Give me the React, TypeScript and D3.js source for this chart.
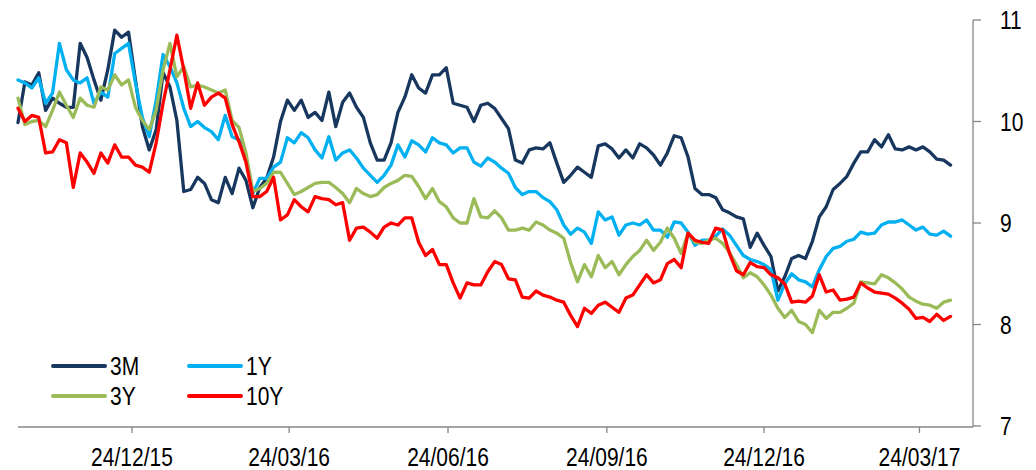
import React from 'react';
import * as d3 from 'd3';

// sampled every 4 days starting 19/10/2015
const startDate = '2015-10-19';
const stepDays = 4;

const rate3M = [
  9.99, 10.39, 10.36, 10.48, 10.11, 10.23, 10.18, 10.14, 10.14, 10.77,
  10.63, 10.41, 10.21, 10.51, 10.90, 10.83, 10.88, 10.41, 9.95, 9.72,
  9.92, 10.48, 10.34, 10.01, 9.31, 9.33, 9.45, 9.39, 9.23, 9.20,
  9.45, 9.29, 9.54, 9.42, 9.15, 9.35, 9.44, 9.65, 10.00, 10.21,
  10.11, 10.21, 10.04, 10.09, 10.01, 10.29, 9.95, 10.19, 10.28, 10.14,
  10.04, 9.79, 9.62, 9.62, 9.79, 10.09, 10.24, 10.46, 10.33, 10.28,
  10.46, 10.46, 10.53, 10.18, 10.16, 10.14, 10.00, 10.16, 10.18, 10.13,
  10.03, 9.93, 9.62, 9.59, 9.72, 9.74, 9.73, 9.79, 9.59, 9.40,
  9.47, 9.55, 9.50, 9.45, 9.76, 9.78, 9.73, 9.64, 9.72, 9.64,
  9.78, 9.74, 9.67, 9.57, 9.69, 9.86, 9.84, 9.65, 9.34, 9.28,
  9.28, 9.25, 9.13, 9.10, 9.06, 9.04, 8.76, 8.90, 8.78, 8.67,
  8.33, 8.47, 8.65, 8.68, 8.65, 8.82, 9.06, 9.16, 9.33, 9.39,
  9.46, 9.59, 9.70, 9.70, 9.82, 9.75, 9.87, 9.73, 9.72, 9.75,
  9.72, 9.75, 9.70, 9.63, 9.62, 9.57,
];

const rate1Y = [
  10.41, 10.38, 10.33, 10.43, 10.18, 10.28, 10.77, 10.51, 10.41, 10.38,
  10.43, 10.18, 10.29, 10.24, 10.67, 10.72, 10.77, 10.38, 10.04, 9.85,
  10.21, 10.66, 10.54, 10.38, 10.13, 9.95, 10.00, 9.94, 9.90, 9.82,
  10.06, 9.85, 9.82, 9.65, 9.29, 9.44, 9.44, 9.55, 9.60, 9.84,
  9.79, 9.89, 9.84, 9.72, 9.64, 9.85, 9.62, 9.69, 9.72, 9.64,
  9.54, 9.47, 9.40, 9.47, 9.57, 9.77, 9.65, 9.81, 9.77, 9.70,
  9.84, 9.79, 9.77, 9.69, 9.74, 9.74, 9.60, 9.56, 9.64, 9.60,
  9.54, 9.49, 9.35, 9.28, 9.31, 9.31, 9.25, 9.21, 9.13, 8.98,
  8.89, 8.95, 8.91, 8.80, 9.11, 9.03, 9.06, 8.88, 8.98, 9.00,
  8.98, 9.03, 8.93, 8.93, 8.86, 9.01, 9.00, 8.91, 8.78, 8.83,
  8.83, 8.87, 8.94, 8.88, 8.78, 8.68, 8.64, 8.62, 8.59, 8.54,
  8.24, 8.40, 8.50, 8.44, 8.42, 8.37, 8.54, 8.67, 8.75, 8.77,
  8.82, 8.84, 8.91, 8.89, 8.90, 8.98, 9.01, 9.01, 9.03, 8.98,
  8.93, 8.96, 8.89, 8.88, 8.92, 8.87,
];

const rate3Y = [
  10.23, 9.97, 10.00, 10.01, 9.95, 10.11, 10.29, 10.16, 10.04, 10.23,
  10.16, 10.14, 10.34, 10.31, 10.46, 10.36, 10.41, 10.14, 10.01, 9.92,
  10.11, 10.51, 10.77, 10.44, 10.54, 10.34, 10.36, 10.34, 10.31, 10.28,
  10.31, 10.01, 9.94, 9.69, 9.31, 9.34, 9.39, 9.50, 9.50, 9.39,
  9.28, 9.31, 9.35, 9.39, 9.40, 9.40, 9.35, 9.29, 9.20, 9.34,
  9.29, 9.26, 9.28, 9.35, 9.39, 9.42, 9.47, 9.46, 9.36, 9.24,
  9.34, 9.21, 9.16, 9.05, 9.00, 9.00, 9.24, 9.06, 9.05, 9.12,
  9.05, 8.93, 8.93, 8.95, 8.93, 9.01, 8.98, 8.93, 8.90, 8.85,
  8.61, 8.42, 8.59, 8.47, 8.68, 8.56, 8.62, 8.49, 8.59, 8.67,
  8.73, 8.83, 8.73, 8.81, 8.95, 8.85, 8.70, 8.90, 8.81, 8.80,
  8.83, 8.85, 8.80, 8.71, 8.59, 8.46, 8.51, 8.47, 8.39, 8.29,
  8.16, 8.07, 8.14, 8.03, 8.00, 7.92, 8.14, 8.06, 8.12, 8.12,
  8.16, 8.21, 8.42, 8.41, 8.40, 8.49, 8.46, 8.41, 8.35, 8.27,
  8.23, 8.20, 8.19, 8.16, 8.22, 8.24,
];

const rate10Y = [
  10.13, 10.00, 10.06, 10.04, 9.69, 9.70, 9.82, 9.79, 9.35, 9.69,
  9.60, 9.49, 9.69, 9.59, 9.77, 9.65, 9.65, 9.57, 9.55, 9.50,
  9.79, 10.18, 10.51, 10.85, 10.51, 10.13, 10.38, 10.16, 10.24, 10.28,
  10.23, 9.97, 9.80, 9.60, 9.26, 9.26, 9.31, 9.45, 9.03, 9.08,
  9.23, 9.16, 9.11, 9.26, 9.24, 9.23, 9.18, 9.20, 8.83, 8.95,
  8.96, 8.91, 8.85, 8.96, 9.00, 8.98, 9.05, 9.05, 8.81, 8.68,
  8.74, 8.59, 8.59, 8.41, 8.26, 8.41, 8.39, 8.39, 8.52, 8.62,
  8.59, 8.45, 8.44, 8.27, 8.26, 8.33, 8.29, 8.27, 8.24, 8.22,
  8.09, 7.98, 8.16, 8.11, 8.19, 8.22, 8.17, 8.12, 8.26, 8.29,
  8.39, 8.49, 8.41, 8.44, 8.60, 8.64, 8.56, 8.90, 8.83, 8.81,
  8.80, 8.95, 8.93, 8.70, 8.53, 8.49, 8.61, 8.57, 8.56, 8.49,
  8.46, 8.40, 8.22, 8.23, 8.22, 8.28, 8.49, 8.32, 8.34, 8.24,
  8.25, 8.27, 8.41, 8.36, 8.32, 8.31, 8.30, 8.26, 8.21, 8.15,
  8.06, 8.07, 8.03, 8.10, 8.04, 8.08,
];

const seriesNames = ['3M', '1Y', '3Y', '10Y'];
const seriesColors = ['#17375E', '#00B0F0', '#9BBB59', '#FF0000'];
const seriesValues = [rate3M, rate1Y, rate3Y, rate10Y];

const tickDates = ['2015-12-24', '2016-03-24', '2016-06-24', '2016-09-24', '2016-12-24', '2017-03-24'];
const yTicks = [7, 8, 9, 10, 11];
const axisDomain = ['2015-10-19', '2017-04-24'];

const parse = d3.timeParse('%Y-%m-%d');
const fmt = d3.timeFormat('%d/%m/%y');
const FONT = "'Liberation Sans', Arial, sans-serif";
const AXIS = '#868686';

export default function App() {
  const width = 1036;
  const height = 470;
  const left = 18, right = 973, top = 20, bottom = 426;

  const x = d3.scaleTime()
    .domain(axisDomain.map(d => parse(d) as Date))
    .range([left, right]);
  const y = d3.scaleLinear().domain([7, 11]).range([bottom, top]);

  const start = parse(startDate) as Date;
  const line = d3.line<number>()
    .x((_, i) => x(d3.timeDay.offset(start, i * stepDays)))
    .y(d => y(d));

  const legendCols = [53, 189];
  const legendRows = [366, 396];

  return (
    <svg width={width} height={height} style={{ position: 'absolute', left: 0, top: 0, background: '#fff' }}>
      {seriesValues.map((vals, i) => (
        <path key={seriesNames[i]} d={line(vals) || ''} fill="none" stroke={seriesColors[i]}
          strokeWidth={3.3} strokeLinejoin="round" strokeLinecap="round" />
      ))}

      {/* bottom axis */}
      <line x1={left} x2={right} y1={bottom + 1} y2={bottom + 1} stroke={AXIS} strokeWidth={1.3} />
      {tickDates.map(t => {
        const tx = x(parse(t) as Date);
        return (
          <g key={t}>
            <line x1={tx} x2={tx} y1={bottom + 1} y2={bottom + 7} stroke={AXIS} strokeWidth={1.3} />
            <text transform={`translate(${tx},466) scale(0.84,1)`} textAnchor="middle"
              fontFamily={FONT} fontSize={25} fill="#000">{fmt(parse(t) as Date)}</text>
          </g>
        );
      })}

      {/* right axis */}
      <line x1={right} x2={right} y1={top} y2={bottom + 1} stroke={AXIS} strokeWidth={1.3} />
      {yTicks.map(v => (
        <g key={v}>
          <line x1={right} x2={right + 8} y1={y(v)} y2={y(v)} stroke={AXIS} strokeWidth={1.3} />
          <text transform={`translate(1000,${y(v) + 9}) scale(0.84,1)`} fontFamily={FONT} fontSize={25} fill="#000">{v}</text>
        </g>
      ))}

      {/* legend */}
      {seriesNames.map((name, i) => {
        const lx = legendCols[i % 2];
        const ly = legendRows[Math.floor(i / 2)];
        return (
          <g key={name}>
            <line x1={lx} x2={lx + 52} y1={ly} y2={ly} stroke={seriesColors[i]} strokeWidth={4} strokeLinecap="round" />
            <text transform={`translate(${lx + 57},${ly + 9}) scale(0.84,1)`} fontFamily={FONT} fontSize={25} fill="#000">{name}</text>
          </g>
        );
      })}
    </svg>
  );
}
